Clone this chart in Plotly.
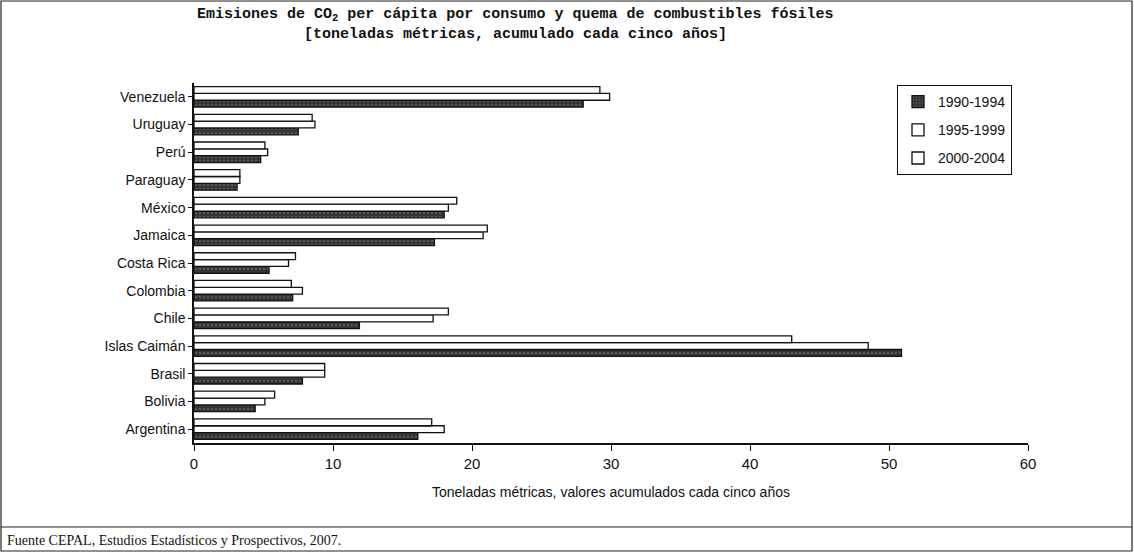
import plotly.graph_objects as go

# countries bottom -> top (plotly draws first category at the bottom)
paises = ["Argentina", "Bolivia", "Brasil", "Islas Caimán", "Chile", "Colombia",
          "Costa Rica", "Jamaica", "México", "Paraguay", "Perú", "Uruguay", "Venezuela"]

# toneladas métricas per cápita, acumulado cada cinco años
v_1990_1994 = [16.1, 4.4, 7.8, 50.9, 11.9, 7.1, 5.4, 17.3, 18.0, 3.1, 4.8, 7.5, 28.0]
v_1995_1999 = [18.0, 5.1, 9.4, 48.5, 17.2, 7.8, 6.8, 20.8, 18.3, 3.3, 5.3, 8.7, 29.9]
v_2000_2004 = [17.1, 5.8, 9.4, 43.0, 18.3, 7.0, 7.3, 21.1, 18.9, 3.3, 5.1, 8.5, 29.2]

series = [
    ("1990-1994", v_1990_1994, "#333333"),
    ("1995-1999", v_1995_1999, "white"),
    ("2000-2004", v_2000_2004, "white"),
]

W, H = 1134, 553
ML, MR, MT, MB = 194, 106, 83, 110
pw, ph = W - ML - MR, H - MT - MB

fig = go.Figure()
for nombre, vals, color in series:
    fig.add_trace(go.Bar(
        y=paises, x=vals, name=nombre, orientation="h", legendgroup=nombre,
        marker=dict(color=color, line=dict(color="#111", width=1.3),
                    pattern=dict(shape="." if color != "white" else "",
                                 fgcolor="#777", size=4, solidity=0.3)),
    ))


def px(x):
    return (x - ML) / pw


def py(y):
    return (H - MB - y) / ph


frame = dict(xref="paper", yref="paper", line=dict(color="#222", width=1.2))
shapes = [
    dict(type="rect", x0=px(1), x1=px(W - 2), y0=py(H - 2), y1=py(1), **frame),
    dict(type="line", x0=px(1), x1=px(W - 2), y0=py(527), y1=py(527), **frame),
]

fig.update_layout(
    width=W, height=H,
    margin=dict(l=ML, r=MR, t=MT, b=MB),
    paper_bgcolor="white", plot_bgcolor="white",
    barmode="group", bargap=0.26, bargroupgap=0.0,
    font=dict(family="Liberation Sans, Arial", size=13, color="#111"),
    xaxis=dict(range=[0, 60], dtick=10, showgrid=False, zeroline=False,
               showline=True, linecolor="#111", linewidth=1.5,
               ticks="outside", ticklen=6, tickcolor="#111",
               tickfont=dict(size=15),
               title=dict(text="Toneladas métricas, valores acumulados cada cinco años",
                          font=dict(size=14), standoff=16)),
    yaxis=dict(showgrid=False, zeroline=False, showline=True, linecolor="#111",
               linewidth=1.5, ticks="outside", ticklen=4, tickcolor="#111",
               tickfont=dict(size=14), range=[-0.5, 12.5]),
    legend=dict(x=px(897), y=py(85), xanchor="left", yanchor="top",
                bordercolor="#111", borderwidth=1, bgcolor="white",
                font=dict(size=14, family="Liberation Sans, Arial"),
                traceorder="grouped", itemwidth=30,
                tracegroupgap=7),
    shapes=shapes,
    annotations=[
        dict(xref="paper", yref="paper", x=px(515), y=py(15), xanchor="center",
             yanchor="middle", showarrow=False,
             text="<b>Emisiones de CO<sub>2</sub> per cápita por consumo y quema de combustibles fósiles</b>",
             font=dict(family="Liberation Mono", size=15, color="#111")),
        dict(xref="paper", yref="paper", x=px(515), y=py(34), xanchor="center",
             yanchor="middle", showarrow=False,
             text="<b>[toneladas métricas, acumulado cada cinco años]</b>",
             font=dict(family="Liberation Mono", size=15, color="#111")),
        dict(xref="paper", yref="paper", x=px(5), y=py(540), xanchor="left",
             yanchor="middle", showarrow=False,
             text="Fuente CEPAL, Estudios Estadísticos y Prospectivos, 2007.",
             font=dict(family="Liberation Serif", size=14, color="#111")),
    ],
)

fig.write_html("out.html", config={"displayModeBar": False},
               post_script="document.body.style.margin='0';")
